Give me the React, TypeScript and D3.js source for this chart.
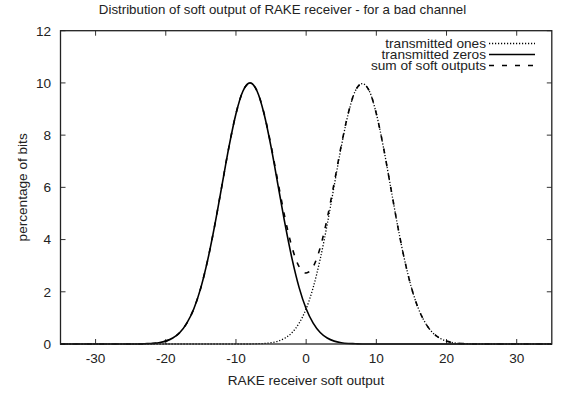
import React from 'react';
import * as d3 from 'd3';

// soft output values (x axis), one sample per unit
const softOutput: number[] = d3.range(-35, 36);

// percentage of bits for transmitted zeros, read at x = -35 .. 35
const zerosPct: number[] = [
  0, 0, 0, 0, 0, 0, 0, 0, 0, 0, 0, 0,
  0.01, 0.02, 0.05, 0.11, 0.23, 0.44, 0.80, 1.35, 2.16, 3.25, 4.58, 6.07, 7.55, 8.82, 9.69,
  10.0,
  9.69, 8.82, 7.55, 6.07, 4.58, 3.25, 2.16, 1.35, 0.80, 0.44, 0.23, 0.11, 0.05, 0.02, 0.01,
  0, 0, 0, 0, 0, 0, 0, 0, 0, 0, 0, 0, 0, 0, 0, 0, 0, 0, 0, 0, 0, 0, 0, 0, 0, 0, 0, 0
];

// percentage of bits for transmitted ones
const onesPct: number[] = [
  0, 0, 0, 0, 0, 0, 0, 0, 0, 0, 0, 0, 0, 0, 0, 0, 0, 0, 0, 0, 0, 0, 0, 0, 0, 0, 0, 0,
  0.01, 0.02, 0.05, 0.11, 0.23, 0.44, 0.80, 1.35, 2.16, 3.25, 4.58, 6.07, 7.55, 8.82, 9.69,
  9.97,
  9.69, 8.82, 7.55, 6.07, 4.58, 3.25, 2.16, 1.35, 0.80, 0.44, 0.23, 0.11, 0.05, 0.02, 0.01,
  0, 0, 0, 0, 0, 0, 0, 0, 0, 0, 0, 0
];

// sum of soft outputs
const sumPct: number[] = [
  0, 0, 0, 0, 0, 0, 0, 0, 0, 0, 0, 0,
  0.01, 0.02, 0.05, 0.11, 0.23, 0.44, 0.80, 1.35, 2.16, 3.25, 4.58, 6.07, 7.55, 8.82, 9.69,
  10.0,
  9.70, 8.84, 7.60, 6.18, 4.81, 3.69, 2.96, 2.72, 2.96, 3.69, 4.81, 6.18, 7.60, 8.84, 9.70,
  9.97,
  9.69, 8.82, 7.55, 6.07, 4.58, 3.25, 2.16, 1.35, 0.80, 0.44, 0.23, 0.11, 0.05, 0.02, 0.01,
  0, 0, 0, 0, 0, 0, 0, 0, 0, 0, 0, 0
];

const xTicks = [-30, -20, -10, 0, 10, 20, 30];
const yTicks = [0, 2, 4, 6, 8, 10, 12];

const legendItems = [
  { label: 'transmitted ones', dash: '1.2,1.8' },
  { label: 'transmitted zeros', dash: null },
  { label: 'sum of soft outputs', dash: '5,8' }
];

export default function App() {
  const width = 563, height = 398;
  const left = 60.5, right = 551.8, top = 30.7, bottom = 344;
  const font = '"Liberation Sans", Arial, sans-serif';

  const x = d3.scaleLinear().domain([-35, 35]).range([left, right]);
  const y = d3.scaleLinear().domain([0, 12]).range([bottom, top]);

  const line = (vals: number[]) => d3.line<number>()
    .x((_, i) => x(softOutput[i]))
    .y(d => y(d))
    .curve(d3.curveMonotoneX)(vals) || '';

  const tick = 5;
  const fs = 13.6;

  return (
    <svg width={width} height={height} style={{ position: 'absolute', left: 0, top: 0, background: '#fff' }}
      fontFamily={font}>
      <text x={282.5} y={13.5} fontSize={13.3} textAnchor='middle' fill='#222'>
        Distribution of soft output of RAKE receiver - for a bad channel
      </text>

      {xTicks.map(t => (
        <g key={'x' + t}>
          <line x1={x(t)} x2={x(t)} y1={bottom} y2={bottom - tick} stroke='#333' />
          <line x1={x(t)} x2={x(t)} y1={top} y2={top + tick} stroke='#333' />
          <text x={x(t)} y={363} fontSize={fs} textAnchor='middle' fill='#222'>{t}</text>
        </g>
      ))}
      {yTicks.map(t => (
        <g key={'y' + t}>
          <line x1={left} x2={left + tick} y1={y(t)} y2={y(t)} stroke='#333' />
          <line x1={right} x2={right - tick} y1={y(t)} y2={y(t)} stroke='#333' />
          <text x={51} y={y(t) + 4.8} fontSize={fs} textAnchor='end' fill='#222'>{t}</text>
        </g>
      ))}

      <text x={306} y={385} fontSize={fs} textAnchor='middle' fill='#222'>RAKE receiver soft output</text>
      <text transform={`translate(27,${(top + bottom) / 2}) rotate(-90)`} fontSize={fs} textAnchor='middle' fill='#222'>
        percentage of bits
      </text>

      <path d={line(onesPct)} fill='none' stroke='#000' strokeWidth={1.3} strokeDasharray='1.2,1.8' />
      <path d={line(zerosPct)} fill='none' stroke='#000' strokeWidth={1.6} />
      <path d={line(sumPct)} fill='none' stroke='#000' strokeWidth={1.6} strokeDasharray='5,8' />

      {legendItems.map((item, i) => {
        const ly = 43.5 + i * 11;
        return (
          <g key={item.label}>
            <text transform={`translate(486,${ly + 4}) scale(1.1,1)`} fontSize={12.4} textAnchor='end' fill='#222'>
              {item.label}
            </text>
            <line x1={489} x2={535} y1={ly} y2={ly} stroke='#000' strokeWidth={item.dash ? 1.3 : 1.6}
              strokeDasharray={item.dash || undefined} />
          </g>
        );
      })}

      <rect x={left} y={top} width={right - left} height={bottom - top} fill='none' stroke='#222' strokeWidth={1.3} />
    </svg>
  );
}
